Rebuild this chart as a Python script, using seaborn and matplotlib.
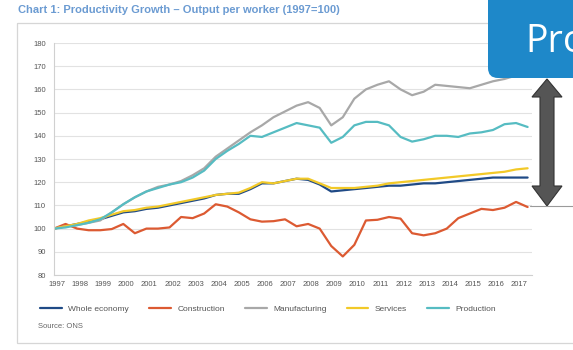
import numpy as np
import pandas as pd
import seaborn as sns
import matplotlib.pyplot as plt
from matplotlib.patches import FancyBboxPatch, Rectangle, Polygon
from matplotlib.lines import Line2D
from matplotlib.transforms import Affine2D

# ---------------- data (index, 1997 = 100), half-yearly ----------------
periods = [1997.0, 1997.5, 1998.0, 1998.5, 1999.0, 1999.5, 2000.0, 2000.5,
           2001.0, 2001.5, 2002.0, 2002.5, 2003.0, 2003.5, 2004.0, 2004.5,
           2005.0, 2005.5, 2006.0, 2006.5, 2007.0, 2007.5, 2008.0, 2008.5,
           2009.0, 2009.5, 2010.0, 2010.5, 2011.0, 2011.5, 2012.0, 2012.5,
           2013.0, 2013.5, 2014.0, 2014.5, 2015.0, 2015.5, 2016.0, 2016.5,
           2017.0, 2017.5]

whole_economy = [100, 101, 102, 103, 104, 105.5, 107, 107.5,
                 108.5, 109, 110, 111, 112, 113, 114.5, 115,
                 115, 117, 119.5, 119.5, 120.5, 121.5, 121, 119,
                 116, 116.5, 117, 117.5, 118, 118.5, 118.5, 119,
                 119.5, 119.5, 120, 120.5, 121, 121.5, 122, 122,
                 122, 122]

construction = [100, 102, 100, 99.3, 99.3, 99.8, 102, 98,
                100, 100, 100.5, 105, 104.5, 106.5, 110.5, 109.5,
                107, 104, 103, 103.2, 104, 101, 102, 100,
                92.5, 88, 93, 103.5, 103.8, 105, 104.3, 98,
                97.1, 98, 100, 104.5, 106.5, 108.5, 108, 109,
                111.5, 109.3]

manufacturing = [100, 101, 101.5, 102.5, 103.5, 107, 110.5, 113.5,
                 116, 118, 119, 120.5, 123, 126, 131, 134.5,
                 138, 141.5, 144.5, 148, 150.5, 153, 154.5, 152,
                 144.5, 148, 156, 160, 162, 163.5, 160, 157.5,
                 159, 162, 161.5, 161, 160.5, 162, 163.5, 164.5,
                 166, 166.5]

services = [100, 101, 102, 103.5, 104.5, 106, 107.5, 108,
            109, 109.5, 110.5, 111.5, 112.5, 113.5, 114.5, 115,
            115.5, 117.5, 120, 119.5, 120.5, 121.5, 121.5, 119.5,
            117.5, 117.5, 117.5, 118, 118.5, 119.5, 120, 120.5,
            121, 121.5, 122, 122.5, 123, 123.5, 124, 124.5,
            125.5, 126]

production = [100, 100.5, 101.5, 102.5, 104, 107, 110.5, 113.5,
              116, 117.5, 119, 120, 122, 125, 130, 133.5,
              136.5, 140, 139.5, 141.5, 143.5, 145.5, 144.5, 143.5,
              137, 139.5, 144.5, 146, 146, 144.5, 139.5, 137.5,
              138.5, 140, 140, 139.5, 141, 141.5, 142.5, 145,
              145.5, 143.8]

series_names = ["Whole economy", "Construction", "Manufacturing", "Services", "Production"]
series_colors = ["#1f4a86", "#dc5a32", "#a8a8a8", "#f2c928", "#56bcc2"]
year_labels = [str(y) for y in range(1997, 2018)]
y_ticks = [80, 90, 100, 110, 120, 130, 140, 150, 160, 170, 180]

title_text = "Chart 1: Productivity Growth \u2013 Output per worker (1997=100)"
source_text = "Source: ONS"

# ---------------- build long table ----------------
values = [whole_economy, construction, manufacturing, services, production]
frames = [pd.DataFrame({"period": periods, "index": v, "series": n})
          for n, v in zip(series_names, values)]
df = pd.concat(frames, ignore_index=True)

# ---------------- figure ----------------
sns.set_theme(style="white")
plt.rcParams["font.family"] = ["Liberation Sans", "DejaVu Sans"]

W, H = 573, 350
fig = plt.figure(figsize=(W / 100, H / 100), dpi=100)
fig.patch.set_facecolor("white")
PX = Affine2D().scale(1, -1).translate(0, H)  # pixel coords, origin top-left

# outer frame of the chart panel
fig.add_artist(Rectangle((17, 23), 620, 320, transform=PX, fill=False,
                         ec="#d6d6d6", lw=0.9))

ax = fig.add_axes([54 / W, 1 - 275 / H, 478 / W, 232 / H])
sns.lineplot(data=df, x="period", y="index", hue="series",
             hue_order=series_names, palette=series_colors,
             linewidth=1.6, ax=ax, legend=True)

ax.set_xlim(1997.0, 2017.69)
ax.set_ylim(80, 180)
ax.set_yticks(y_ticks)
ax.set_yticklabels([str(t) for t in y_ticks])
ax.set_xticks([int(y) + 0.13 for y in year_labels])
ax.set_xticklabels(year_labels)
ax.set_xlabel("")
ax.set_ylabel("")
ax.tick_params(axis="both", length=0, labelsize=5.5, colors="#555555")
ax.tick_params(axis="y", pad=6)
ax.tick_params(axis="x", pad=4)
ax.yaxis.grid(True, color="#e2e2e2", lw=0.8)
ax.xaxis.grid(False)
for s in ["top", "right"]:
    ax.spines[s].set_visible(False)
for s in ["left", "bottom"]:
    ax.spines[s].set_color("#d0d0d0")
    ax.spines[s].set_linewidth(0.8)

handles, labels = ax.get_legend_handles_labels()
ax.get_legend().remove()
fig.legend(handles, labels, loc="center", bbox_to_anchor=(268 / W, 1 - 309 / H),
           ncol=5, frameon=False, fontsize=6, handlelength=2.6,
           columnspacing=2.4, handletextpad=0.8, labelcolor="#555555")

# title and source
fig.text(18, 10, title_text, transform=PX, va="center", ha="left",
         fontsize=8, fontweight="bold", color="#6b9bd2")
fig.text(38, 327, source_text, transform=PX, va="center", ha="left",
         fontsize=5.5, color="#666666")

# gap arrow
arrow_pts = [(547, 79), (562, 97), (554, 97), (554, 186), (562, 186), (547, 206),
             (532, 186), (540, 186), (540, 97), (532, 97)]
fig.add_artist(Polygon(arrow_pts, closed=True, transform=PX, fc="#555555",
                       ec="#333333", lw=0.8))
fig.add_artist(Line2D([530, 575], [206, 206], transform=PX, color="#9a9a9a", lw=0.8))

# blue overlay box
fig.add_artist(FancyBboxPatch((488, -20), 130, 98, transform=PX,
                              boxstyle="round,pad=0,rounding_size=10",
                              fc="#1e88c9", ec="none"))
fig.text(525, 52, "Pro", transform=PX, va="baseline", ha="left",
         fontsize=27, color="white", family=["Open Sans", "DejaVu Sans"])

fig.savefig("out.png", dpi=100)
